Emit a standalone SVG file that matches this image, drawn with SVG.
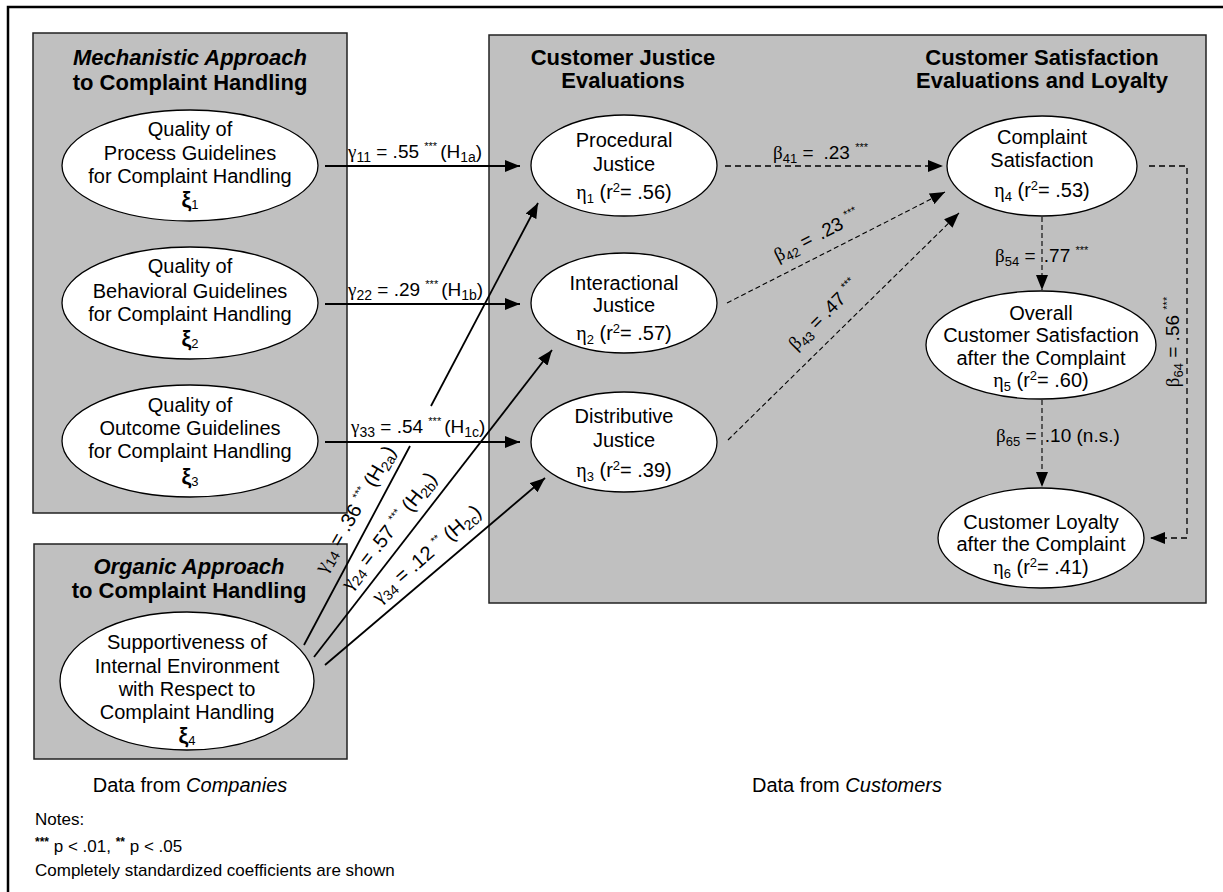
<svg xmlns="http://www.w3.org/2000/svg" width="1223" height="892" viewBox="0 0 1223 892">
<defs>
<style>
.box{fill:#c0c0c0;stroke:#222;stroke-width:1.5}
.node ellipse{fill:#fff;stroke:#000;stroke-width:1.3}
text{font-family:"Liberation Sans",Arial,sans-serif;fill:#000}
.t{font-size:20px;text-anchor:middle}
.title{font-size:22px;font-weight:bold;text-anchor:middle}
.gk{font-family:"Liberation Serif","Times New Roman",serif}
.xi{font-weight:bold;font-size:22px}
.lab{font-size:19px}
.rl{font-size:20px}
.note{font-size:17px}
.solid{stroke:#000;stroke-width:1.8;fill:none}
.dash{stroke:#000;stroke-width:1.3;stroke-dasharray:6 4;fill:none}
.dash2{stroke:#000;stroke-width:1.1;stroke-dasharray:5 3;fill:none}
</style>
<marker id="ah" markerUnits="userSpaceOnUse" markerWidth="15" markerHeight="12" refX="15" refY="6" orient="auto">
<path d="M0,0 L15,6 L0,12 Z" fill="#000"/>
</marker>
</defs>
<rect width="1223" height="892" fill="#fff"/>
<path d="M8,892 V7 H1223" fill="none" stroke="#000" stroke-width="2.5"/>

<g id="group-mechanistic">
<rect class="box" x="33" y="33" width="314" height="480"/>
<text class="title" x="190" y="65"><tspan font-style="italic">Mechanistic Approach</tspan></text>
<text class="title" x="190" y="90">to Complaint Handling</text>
</g>
<g id="group-organic">
<rect class="box" x="34" y="544" width="313" height="215"/>
<text class="title" x="189" y="574"><tspan font-style="italic">Organic Approach</tspan></text>
<text class="title" x="189" y="598">to Complaint Handling</text>
</g>
<g id="group-customers">
<rect class="box" x="489" y="35" width="717" height="568"/>
<text class="title" x="623" y="65">Customer Justice</text>
<text class="title" x="623" y="88">Evaluations</text>
<text class="title" x="1042" y="65">Customer Satisfaction</text>
<text class="title" x="1042" y="88">Evaluations and Loyalty</text>
</g>

<g id="xi1" class="node">
<ellipse cx="190" cy="165.5" rx="128" ry="55.5"/>
<text class="t" x="190" y="136">Quality of</text>
<text class="t" x="190" y="160">Process Guidelines</text>
<text class="t" x="190" y="183">for Complaint Handling</text>
<text class="t" x="190" y="207"><tspan class="xi">ξ</tspan><tspan font-size="13" dy="2">1</tspan></text>
</g>
<g id="xi2" class="node">
<ellipse cx="190" cy="303" rx="128" ry="56"/>
<text class="t" x="190" y="273">Quality of</text>
<text class="t" x="190" y="298">Behavioral Guidelines</text>
<text class="t" x="190" y="321">for Complaint Handling</text>
<text class="t" x="190" y="346"><tspan class="xi">ξ</tspan><tspan font-size="13" dy="2">2</tspan></text>
</g>
<g id="xi3" class="node">
<ellipse cx="190" cy="441" rx="128" ry="56"/>
<text class="t" x="190" y="412">Quality of</text>
<text class="t" x="190" y="435">Outcome Guidelines</text>
<text class="t" x="190" y="458">for Complaint Handling</text>
<text class="t" x="190" y="484"><tspan class="xi">ξ</tspan><tspan font-size="13" dy="2">3</tspan></text>
</g>
<g id="xi4" class="node">
<ellipse cx="187" cy="681" rx="127" ry="69"/>
<text class="t" x="187" y="649">Supportiveness of</text>
<text class="t" x="187" y="673">Internal Environment</text>
<text class="t" x="187" y="696">with Respect to</text>
<text class="t" x="187" y="719">Complaint Handling</text>
<text class="t" x="187" y="743"><tspan class="xi">ξ</tspan><tspan font-size="13" dy="2">4</tspan></text>
</g>

<g id="eta1" class="node">
<ellipse cx="624" cy="165.5" rx="93" ry="50.5"/>
<text class="t" x="624" y="147">Procedural</text>
<text class="t" x="624" y="171">Justice</text>
<text class="t" x="624" y="199"><tspan class="gk">η</tspan><tspan font-size="13" dy="4">1</tspan><tspan dy="-4"> (r</tspan><tspan font-size="13" dy="-7">2</tspan><tspan dy="7">= .56)</tspan></text>
</g>
<g id="eta2" class="node">
<ellipse cx="624" cy="303" rx="93" ry="50"/>
<text class="t" x="624" y="290">Interactional</text>
<text class="t" x="624" y="312">Justice</text>
<text class="t" x="624" y="340"><tspan class="gk">η</tspan><tspan font-size="13" dy="4">2</tspan><tspan dy="-4"> (r</tspan><tspan font-size="13" dy="-7">2</tspan><tspan dy="7">= .57)</tspan></text>
</g>
<g id="eta3" class="node">
<ellipse cx="624" cy="442" rx="93" ry="50"/>
<text class="t" x="624" y="423">Distributive</text>
<text class="t" x="624" y="447">Justice</text>
<text class="t" x="624" y="477"><tspan class="gk">η</tspan><tspan font-size="13" dy="4">3</tspan><tspan dy="-4"> (r</tspan><tspan font-size="13" dy="-7">2</tspan><tspan dy="7">= .39)</tspan></text>
</g>
<g id="eta4" class="node">
<ellipse cx="1042" cy="166" rx="95" ry="50"/>
<text class="t" x="1042" y="144">Complaint</text>
<text class="t" x="1042" y="167">Satisfaction</text>
<text class="t" x="1042" y="197"><tspan class="gk">η</tspan><tspan font-size="13" dy="4">4</tspan><tspan dy="-4"> (r</tspan><tspan font-size="13" dy="-7">2</tspan><tspan dy="7">= .53)</tspan></text>
</g>
<g id="eta5" class="node">
<ellipse cx="1041" cy="345" rx="115" ry="54"/>
<text class="t" x="1041" y="320">Overall</text>
<text class="t" x="1041" y="342">Customer Satisfaction</text>
<text class="t" x="1041" y="365">after the Complaint</text>
<text class="t" x="1041" y="387"><tspan class="gk">η</tspan><tspan font-size="13" dy="4">5</tspan><tspan dy="-4"> (r</tspan><tspan font-size="13" dy="-7">2</tspan><tspan dy="7">= .60)</tspan></text>
</g>
<g id="eta6" class="node">
<ellipse cx="1041" cy="538" rx="103" ry="50"/>
<text class="t" x="1041" y="529">Customer Loyalty</text>
<text class="t" x="1041" y="551">after the Complaint</text>
<text class="t" x="1041" y="574"><tspan class="gk">η</tspan><tspan font-size="13" dy="4">6</tspan><tspan dy="-4"> (r</tspan><tspan font-size="13" dy="-7">2</tspan><tspan dy="7">= .41)</tspan></text>
</g>

<g id="connectors">
<path class="solid" d="M325,166 H520" marker-end="url(#ah)"/>
<path class="solid" d="M325,304 H520" marker-end="url(#ah)"/>
<path class="solid" d="M325,442 H520" marker-end="url(#ah)"/>
<path class="solid" d="M304,645 L410,446"/>
<path class="solid" d="M431,406 L538,203" marker-end="url(#ah)"/>
<path class="solid" d="M314,657 L552,350" marker-end="url(#ah)"/>
<path class="solid" d="M325,665 L545,478" marker-end="url(#ah)"/>
<path class="dash" d="M725,166 H943" marker-end="url(#ah)"/>
<path class="dash2" d="M727,303 L945,192" marker-end="url(#ah)"/>
<path class="dash2" d="M728,440 L959,213" marker-end="url(#ah)"/>
<path class="dash2" d="M1042,217 V290" marker-end="url(#ah)"/>
<path class="dash2" d="M1042,400 V487" marker-end="url(#ah)"/>
<path class="dash" d="M1149,166 H1187 V538 H1150" marker-end="url(#ah)"/>

<text class="lab" x="348" y="158"><tspan class="gk">γ</tspan><tspan font-size="14" dy="4">11</tspan><tspan dy="-4"> = .55 </tspan><tspan font-size="11" dy="-8">***</tspan><tspan dy="8" dx="3">(H</tspan><tspan font-size="14" dy="4">1a</tspan><tspan dy="-4">)</tspan></text>
<text class="lab" x="348" y="296"><tspan class="gk">γ</tspan><tspan font-size="14" dy="4">22</tspan><tspan dy="-4"> = .29 </tspan><tspan font-size="11" dy="-8">***</tspan><tspan dy="8" dx="3">(H</tspan><tspan font-size="14" dy="4">1b</tspan><tspan dy="-4">)</tspan></text>
<text class="lab" x="351" y="433"><tspan class="gk">γ</tspan><tspan font-size="14" dy="4">33</tspan><tspan dy="-4"> = .54 </tspan><tspan font-size="11" dy="-8">***</tspan><tspan dy="8" dx="3">(H</tspan><tspan font-size="14" dy="4">1c</tspan><tspan dy="-4">)</tspan></text>

<text class="rl" transform="translate(325,574) rotate(-60)"><tspan class="gk">γ</tspan><tspan font-size="14" dy="4">14</tspan><tspan dy="-4"> = .36 </tspan><tspan font-size="11" dy="-8">***</tspan><tspan dy="8"> (H</tspan><tspan font-size="14" dy="4">2a</tspan><tspan dy="-4">)</tspan></text>
<text class="rl" transform="translate(350,591) rotate(-52)"><tspan class="gk">γ</tspan><tspan font-size="14" dy="4">24</tspan><tspan dy="-4"> = .57 </tspan><tspan font-size="11" dy="-8">***</tspan><tspan dy="8"> (H</tspan><tspan font-size="14" dy="4">2b</tspan><tspan dy="-4">)</tspan></text>
<text class="rl" transform="translate(379,604) rotate(-41)"><tspan class="gk">γ</tspan><tspan font-size="14" dy="4">34</tspan><tspan dy="-4"> = .12 </tspan><tspan font-size="11" dy="-8">**</tspan><tspan dy="8"> (H</tspan><tspan font-size="14" dy="4">2c</tspan><tspan dy="-4">)</tspan></text>

<text class="lab" x="773" y="159"><tspan class="gk">β</tspan><tspan font-size="13" dy="4">41</tspan><tspan dy="-4"> =</tspan><tspan dx="10">.23 </tspan><tspan font-size="11" dy="-8">***</tspan></text>
<text class="lab" transform="translate(778,262) rotate(-27)"><tspan class="gk">β</tspan><tspan font-size="13" dy="4">42</tspan><tspan dy="-4"> =</tspan><tspan dx="8">.23 </tspan><tspan font-size="11" dy="-8">***</tspan></text>
<text class="lab" transform="translate(796,351) rotate(-45)"><tspan class="gk">β</tspan><tspan font-size="13" dy="4">43</tspan><tspan dy="-4"> = .47 </tspan><tspan font-size="11" dy="-8">***</tspan></text>
<text class="lab" x="995" y="262"><tspan class="gk">β</tspan><tspan font-size="13" dy="4">54</tspan><tspan dy="-4"> = </tspan><tspan dx="3">.77 </tspan><tspan font-size="11" dy="-8">***</tspan></text>
<text class="lab" x="996" y="442"><tspan class="gk">β</tspan><tspan font-size="13" dy="4">65</tspan><tspan dy="-4"> = </tspan><tspan dx="3">.10 (n.s.)</tspan></text>
<text class="lab" text-anchor="middle" transform="translate(1179,342) rotate(-90)"><tspan class="gk">β</tspan><tspan font-size="13" dy="4">64</tspan><tspan dy="-4"> = .56 </tspan><tspan font-size="11" dy="-8">***</tspan></text>
</g>

<g id="footer">
<text class="t" x="190" y="792">Data from <tspan font-style="italic">Companies</tspan></text>
<text class="t" x="847" y="792">Data from <tspan font-style="italic">Customers</tspan></text>
<text class="note" x="35" y="825">Notes:</text>
<text class="note" x="35" y="852"><tspan font-weight="bold" font-size="12" dy="-6">***</tspan><tspan dy="6"> p &lt; .01, </tspan><tspan font-weight="bold" font-size="12" dy="-6">**</tspan><tspan dy="6"> p &lt; .05</tspan></text>
<text class="note" x="35" y="876">Completely standardized coefficients are shown</text>
</g>
</svg>
